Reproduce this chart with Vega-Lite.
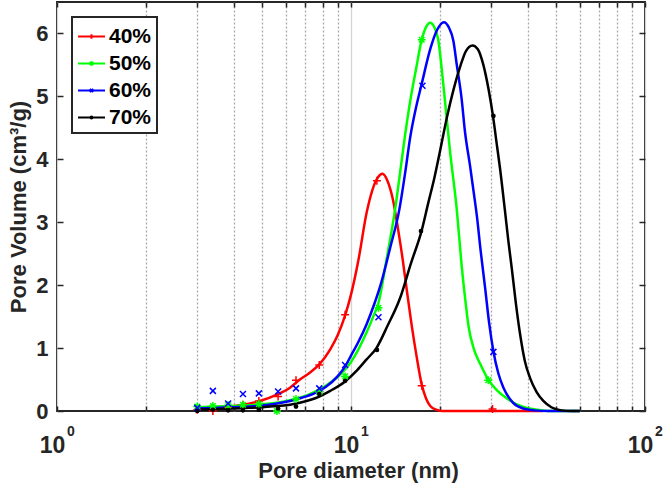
{
  "$schema": "https://vega.github.io/schema/vega-lite/v6.json",
  "width": 588,
  "height": 409,
  "autosize": {"type": "none"},
  "padding": {"left": 57, "top": 2, "right": 18, "bottom": 73},
  "background": "white",
  "config": {
    "view": {"stroke": "#262626", "strokeWidth": 2},
    "font": "Liberation Sans",
    "axis": {
      "labelFont": "Liberation Sans", "labelFontWeight": "bold", "labelFontSize": 22, "labelColor": "#262626",
      "titleFont": "Liberation Sans", "titleFontWeight": "bold", "titleFontSize": 22, "titleColor": "#262626",
      "domain": false, "tickColor": "#262626", "tickWidth": 1.5, "labelFlush": false, "labelOverlap": false, "labelBound": false
    }
  },
  "datasets": {
    "curves": [
      {"s":"40%","d":3.0,"v":0.03},{"s":"40%","d":3.4,"v":0.05},{"s":"40%","d":3.8,"v":0.07},{"s":"40%","d":4.3,"v":0.10},{"s":"40%","d":4.9,"v":0.16},{"s":"40%","d":5.6,"v":0.26},{"s":"40%","d":6.2,"v":0.37},{"s":"40%","d":6.7,"v":0.5},{"s":"40%","d":7.2,"v":0.6},{"s":"40%","d":7.8,"v":0.74},{"s":"40%","d":8.5,"v":0.98},{"s":"40%","d":9.0,"v":1.2},{"s":"40%","d":9.55,"v":1.52},{"s":"40%","d":10.0,"v":1.85},{"s":"40%","d":10.6,"v":2.4},{"s":"40%","d":11.3,"v":3.15},{"s":"40%","d":11.8,"v":3.5},{"s":"40%","d":12.3,"v":3.7},{"s":"40%","d":12.8,"v":3.77},{"s":"40%","d":13.3,"v":3.66},{"s":"40%","d":13.9,"v":3.35},{"s":"40%","d":14.5,"v":2.85},{"s":"40%","d":15.0,"v":2.4},{"s":"40%","d":15.5,"v":1.9},{"s":"40%","d":16.1,"v":1.35},{"s":"40%","d":16.7,"v":0.88},{"s":"40%","d":17.4,"v":0.42},{"s":"40%","d":18.0,"v":0.2},{"s":"40%","d":18.6,"v":0.08},{"s":"40%","d":19.5,"v":0.02},{"s":"40%","d":20.5,"v":0.0},{"s":"40%","d":30,"v":0.0},{"s":"40%","d":45,"v":0.0},
      {"s":"50%","d":3.0,"v":0.06},{"s":"50%","d":3.5,"v":0.07},{"s":"50%","d":4.0,"v":0.08},{"s":"50%","d":4.5,"v":0.09},{"s":"50%","d":5.0,"v":0.11},{"s":"50%","d":5.6,"v":0.13},{"s":"50%","d":6.2,"v":0.17},{"s":"50%","d":6.8,"v":0.22},{"s":"50%","d":7.5,"v":0.3},{"s":"50%","d":8.2,"v":0.4},{"s":"50%","d":9.0,"v":0.54},{"s":"50%","d":9.55,"v":0.66},{"s":"50%","d":10.0,"v":0.78},{"s":"50%","d":10.6,"v":0.98},{"s":"50%","d":11.3,"v":1.25},{"s":"50%","d":11.9,"v":1.5},{"s":"50%","d":12.4,"v":1.72},{"s":"50%","d":13.2,"v":2.4},{"s":"50%","d":14.1,"v":3.18},{"s":"50%","d":14.7,"v":3.8},{"s":"50%","d":15.3,"v":4.41},{"s":"50%","d":16.0,"v":5.0},{"s":"50%","d":16.7,"v":5.47},{"s":"50%","d":17.3,"v":5.85},{"s":"50%","d":18.0,"v":6.1},{"s":"50%","d":18.6,"v":6.17},{"s":"50%","d":19.2,"v":6.1},{"s":"50%","d":19.8,"v":5.9},{"s":"50%","d":20.6,"v":5.2},{"s":"50%","d":21.7,"v":4.14},{"s":"50%","d":22.9,"v":3.2},{"s":"50%","d":23.8,"v":2.3},{"s":"50%","d":24.5,"v":1.75},{"s":"50%","d":25.1,"v":1.35},{"s":"50%","d":26.2,"v":0.98},{"s":"50%","d":27.5,"v":0.75},{"s":"50%","d":29.3,"v":0.5},{"s":"50%","d":31.5,"v":0.32},{"s":"50%","d":33.9,"v":0.2},{"s":"50%","d":36.5,"v":0.11},{"s":"50%","d":39.6,"v":0.05},{"s":"50%","d":43,"v":0.02},{"s":"50%","d":47,"v":0.0},{"s":"50%","d":60,"v":0.0},
      {"s":"60%","d":3.0,"v":0.04},{"s":"60%","d":3.5,"v":0.05},{"s":"60%","d":4.0,"v":0.06},{"s":"60%","d":4.5,"v":0.07},{"s":"60%","d":5.0,"v":0.09},{"s":"60%","d":5.6,"v":0.12},{"s":"60%","d":6.2,"v":0.16},{"s":"60%","d":6.8,"v":0.21},{"s":"60%","d":7.5,"v":0.28},{"s":"60%","d":8.2,"v":0.38},{"s":"60%","d":9.0,"v":0.55},{"s":"60%","d":9.55,"v":0.71},{"s":"60%","d":10.0,"v":0.88},{"s":"60%","d":10.6,"v":1.1},{"s":"60%","d":11.3,"v":1.38},{"s":"60%","d":12.0,"v":1.7},{"s":"60%","d":12.6,"v":2.0},{"s":"60%","d":13.6,"v":2.6},{"s":"60%","d":14.6,"v":3.2},{"s":"60%","d":15.3,"v":3.8},{"s":"60%","d":15.9,"v":4.35},{"s":"60%","d":16.6,"v":4.8},{"s":"60%","d":17.4,"v":5.2},{"s":"60%","d":18.6,"v":5.75},{"s":"60%","d":19.6,"v":6.05},{"s":"60%","d":20.7,"v":6.18},{"s":"60%","d":21.5,"v":6.1},{"s":"60%","d":22.3,"v":5.88},{"s":"60%","d":22.9,"v":5.5},{"s":"60%","d":23.8,"v":4.95},{"s":"60%","d":24.4,"v":4.45},{"s":"60%","d":25.4,"v":3.9},{"s":"60%","d":26.1,"v":3.5},{"s":"60%","d":26.8,"v":3.1},{"s":"60%","d":27.6,"v":2.55},{"s":"60%","d":28.6,"v":1.95},{"s":"60%","d":29.5,"v":1.4},{"s":"60%","d":30.5,"v":0.95},{"s":"60%","d":31.7,"v":0.6},{"s":"60%","d":33.0,"v":0.37},{"s":"60%","d":35.6,"v":0.13},{"s":"60%","d":38.5,"v":0.04},{"s":"60%","d":42,"v":0.01},{"s":"60%","d":47,"v":0.0},{"s":"60%","d":60,"v":0.0},
      {"s":"70%","d":3.0,"v":0.02},{"s":"70%","d":3.5,"v":0.03},{"s":"70%","d":4.0,"v":0.04},{"s":"70%","d":4.5,"v":0.05},{"s":"70%","d":5.0,"v":0.06},{"s":"70%","d":5.6,"v":0.08},{"s":"70%","d":6.2,"v":0.1},{"s":"70%","d":6.7,"v":0.13},{"s":"70%","d":7.2,"v":0.17},{"s":"70%","d":7.8,"v":0.23},{"s":"70%","d":8.5,"v":0.32},{"s":"70%","d":9.55,"v":0.47},{"s":"70%","d":10.5,"v":0.65},{"s":"70%","d":11.3,"v":0.82},{"s":"70%","d":12.2,"v":1.0},{"s":"70%","d":13.3,"v":1.35},{"s":"70%","d":14.7,"v":1.8},{"s":"70%","d":16.0,"v":2.35},{"s":"70%","d":17.4,"v":2.87},{"s":"70%","d":18.3,"v":3.3},{"s":"70%","d":19.2,"v":3.7},{"s":"70%","d":20.1,"v":4.14},{"s":"70%","d":21.2,"v":4.67},{"s":"70%","d":22.3,"v":5.1},{"s":"70%","d":23.5,"v":5.47},{"s":"70%","d":24.6,"v":5.72},{"s":"70%","d":25.9,"v":5.81},{"s":"70%","d":27.0,"v":5.75},{"s":"70%","d":28.2,"v":5.5},{"s":"70%","d":29.4,"v":5.1},{"s":"70%","d":30.4,"v":4.69},{"s":"70%","d":31.3,"v":4.25},{"s":"70%","d":32.1,"v":3.87},{"s":"70%","d":33.4,"v":3.18},{"s":"70%","d":34.3,"v":2.7},{"s":"70%","d":35.2,"v":2.28},{"s":"70%","d":36.4,"v":1.7},{"s":"70%","d":37.6,"v":1.22},{"s":"70%","d":39.0,"v":0.8},{"s":"70%","d":40.6,"v":0.53},{"s":"70%","d":42.8,"v":0.3},{"s":"70%","d":45.1,"v":0.16},{"s":"70%","d":48,"v":0.06},{"s":"70%","d":52,"v":0.01},{"s":"70%","d":56,"v":0.0},{"s":"70%","d":60,"v":0.0}
    ],
    "markers": [
      {"s":"40%","d":3.0,"v":0.02},{"s":"40%","d":3.39,"v":0.0},{"s":"40%","d":3.82,"v":0.06},{"s":"40%","d":4.29,"v":0.1},{"s":"40%","d":4.86,"v":0.16},{"s":"40%","d":5.65,"v":0.23},{"s":"40%","d":6.5,"v":0.49},{"s":"40%","d":7.8,"v":0.73},{"s":"40%","d":9.55,"v":1.53},{"s":"40%","d":12.25,"v":3.66},{"s":"40%","d":17.4,"v":0.4},{"s":"40%","d":30.3,"v":0.03},
      {"s":"50%","d":3.0,"v":0.07},{"s":"50%","d":3.39,"v":0.08},{"s":"50%","d":3.82,"v":0.09},{"s":"50%","d":4.29,"v":0.1},{"s":"50%","d":4.86,"v":0.11},{"s":"50%","d":5.6,"v":0.0},{"s":"50%","d":6.5,"v":0.19},{"s":"50%","d":7.8,"v":0.3},{"s":"50%","d":9.55,"v":0.55},{"s":"50%","d":12.4,"v":1.64},{"s":"50%","d":17.4,"v":5.9},{"s":"50%","d":29.3,"v":0.49},
      {"s":"60%","d":3.0,"v":0.05},{"s":"60%","d":3.39,"v":0.32},{"s":"60%","d":3.82,"v":0.12},{"s":"60%","d":4.29,"v":0.27},{"s":"60%","d":4.86,"v":0.28},{"s":"60%","d":5.65,"v":0.31},{"s":"60%","d":6.5,"v":0.36},{"s":"60%","d":7.8,"v":0.36},{"s":"60%","d":9.55,"v":0.73},{"s":"60%","d":12.4,"v":1.49},{"s":"60%","d":17.5,"v":5.17},{"s":"60%","d":30.5,"v":0.94},
      {"s":"70%","d":3.0,"v":0.0},{"s":"70%","d":3.39,"v":0.02},{"s":"70%","d":3.82,"v":0.01},{"s":"70%","d":4.29,"v":0.01},{"s":"70%","d":4.86,"v":0.02},{"s":"70%","d":5.65,"v":0.04},{"s":"70%","d":6.5,"v":0.07},{"s":"70%","d":7.8,"v":0.27},{"s":"70%","d":9.55,"v":0.48},{"s":"70%","d":12.25,"v":0.97},{"s":"70%","d":17.3,"v":2.86},{"s":"70%","d":30.5,"v":4.69}
    ]
  },
  "layer": [
    {
      "data": {"name": "curves"},
      "mark": {"type": "line", "strokeWidth": 2.5, "interpolate": "monotone"},
      "encoding": {
        "x": {
          "field": "d", "type": "quantitative",
          "scale": {"type": "log", "domain": [1, 100]},
          "axis": {
            "title": "Pore diameter (nm)",
            "values": [1,2,3,4,5,6,7,8,9,10,20,30,40,50,60,70,80,90,100],
            "labelExpr": "datum.value == 1 || datum.value == 10 || datum.value == 100 ? '10' : ''",
            "labelFontSize": 23,
            "tickSize": -5, "labelPadding": 28, "labelOffset": -5,
            "grid": true, "gridWidth": 1.3,
            "gridColor": {"condition": {"test": "datum.value == 1 || datum.value == 10 || datum.value == 100", "value": "#d4d4d4"}, "value": "#ababab"},
            "gridDash": {"condition": {"test": "datum.value == 1 || datum.value == 10 || datum.value == 100", "value": []}, "value": [2, 2]},
            "titleY": 66, "titleX": 301, "titleBaseline": "alphabetic"
          }
        },
        "y": {
          "field": "v", "type": "quantitative",
          "scale": {"domain": [0, 6.5]},
          "axis": {
            "title": "Pore Volume (cm³/g)",
            "values": [0,1,2,3,4,5,6],
            "tickSize": -6, "labelPadding": 15, "grid": false,
            "titleX": -32, "titleBaseline": "alphabetic"
          }
        },
        "color": {
          "field": "s", "type": "nominal",
          "scale": {"domain": ["40%","50%","60%","70%"], "range": ["#ff0000","#00ff00","#0000ff","#000000"]},
          "legend": {
            "title": null, "orient": "top-left", "offset": 15,
            "strokeColor": "#262626", "fillColor": "white",
            "padding": 5, "rowPadding": 2,
            "labelFont": "Liberation Sans", "labelFontWeight": "bold", "labelFontSize": 21, "labelColor": "#000000", "labelOffset": 3,
            "symbolSize": 729, "symbolStrokeWidth": 2,
            "encode": {
              "legend": {"update": {"strokeWidth": {"value": 2}}},
              "symbols": {
                "update": {
                  "shape": {"signal": "datum.value === '40%' ? 'M-1,0L1,0M0,-0.17L0,0.17' : datum.value === '50%' ? 'M-1,0L1,0M0,-0.17L0,0.17M-0.12,-0.12L0.12,0.12M-0.12,0.12L0.12,-0.12' : datum.value === '60%' ? 'M-1,0L1,0M-0.12,-0.12L0.12,0.12M-0.12,0.12L0.12,-0.12' : 'M-1,0L1,0M-0.07,0A0.07,0.07 0 1,0 0.07,0A0.07,0.07 0 1,0 -0.07,0'"},
                  "fill": {"value": "#000000"}
                }
              }
            }
          }
        }
      }
    },
    {
      "data": {"name": "markers"},
      "transform": [{"filter": "datum.s != '70%'"}],
      "mark": {"type": "point", "filled": false, "strokeWidth": 1.5, "size": 64, "opacity": 1},
      "encoding": {
        "x": {
          "field": "d", "type": "quantitative",
          "axis": {
            "orient": "bottom", "title": null, "values": [1, 10, 100],
            "labelExpr": "datum.value == 1 ? '0' : datum.value == 10 ? '1' : '2'",
            "labelFontSize": 14, "ticks": false, "grid": false, "labelPadding": 13, "labelOffset": 13.5
          }
        },
        "y": {
          "field": "v", "type": "quantitative",
          "axis": {"orient": "right", "title": null, "values": [0,1,2,3,4,5,6], "labels": false, "tickSize": -6, "grid": false}
        },
        "color": {"field": "s", "type": "nominal"},
        "shape": {
          "field": "s", "type": "nominal",
          "scale": {"domain": ["40%","50%","60%"], "range": ["M-1,0L1,0M0,-1L0,1", "M-1,0L1,0M0,-1L0,1M-0.7,-0.7L0.7,0.7M-0.7,0.7L0.7,-0.7", "M-0.75,-0.75L0.75,0.75M-0.75,0.75L0.75,-0.75"]},
          "legend": null
        }
      }
    },
    {
      "data": {"name": "markers"},
      "transform": [{"filter": "datum.s == '70%'"}],
      "mark": {"type": "point", "shape": "circle", "filled": true, "size": 22, "opacity": 1},
      "encoding": {
        "x": {
          "field": "d", "type": "quantitative",
          "axis": {"orient": "top", "title": null, "values": [1,2,3,4,5,6,7,8,9,10,20,30,40,50,60,70,80,90,100], "labels": false, "tickSize": -5, "grid": false}
        },
        "y": {"field": "v", "type": "quantitative", "axis": null},
        "color": {"field": "s", "type": "nominal"}
      }
    }
  ],
  "resolve": {"axis": {"x": "independent", "y": "independent"}}
}
